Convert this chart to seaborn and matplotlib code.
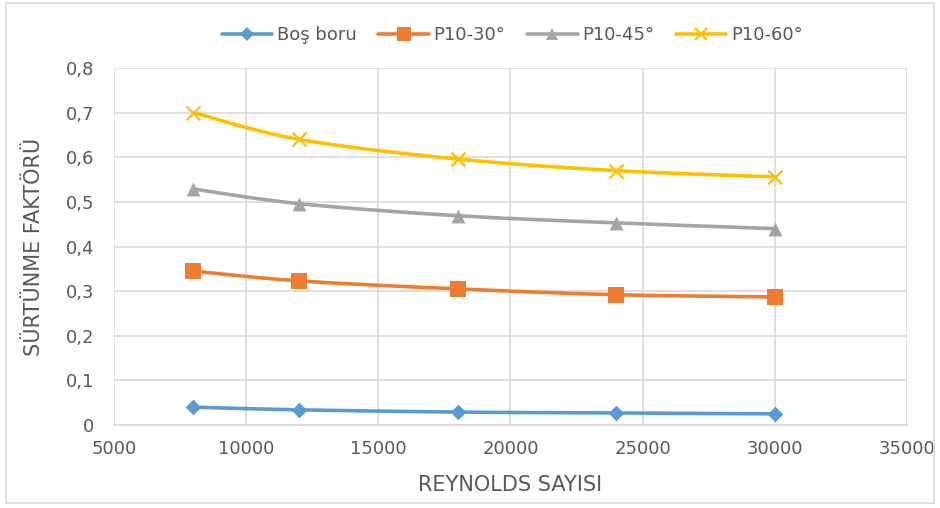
import numpy as np
import pandas as pd
import matplotlib
matplotlib.use("Agg")
import matplotlib.pyplot as plt
import seaborn as sns
from matplotlib.patches import Rectangle

reynolds = [8000, 12000, 18000, 24000, 30000]
series_names = ["Boş boru", "P10-30°", "P10-45°", "P10-60°"]
bos_boru = [0.040, 0.034, 0.029, 0.027, 0.025]
p10_30 = [0.345, 0.323, 0.305, 0.292, 0.287]
p10_45 = [0.529, 0.496, 0.469, 0.453, 0.440]
p10_60 = [0.700, 0.640, 0.596, 0.570, 0.556]
x_ticks = [5000, 10000, 15000, 20000, 25000, 30000, 35000]
y_ticks = [0, 0.1, 0.2, 0.3, 0.4, 0.5, 0.6, 0.7, 0.8]

colors = ["#5B9BD5", "#ED7D31", "#A5A5A5", "#FFC000"]
markers = ["D", "s", "^", "x"]
msizes = [8, 11, 10, 10]

sns.set_theme(style="white")
plt.rcParams['font.family'] = ['DejaVu Sans']

df = pd.DataFrame({
    "Re": reynolds * 4,
    "f": bos_boru + p10_30 + p10_45 + p10_60,
    "seri": sum([[n] * len(reynolds) for n in series_names], []),
})

fig = plt.figure(figsize=(9.4, 5.08), dpi=100)
ax = fig.add_axes([114 / 940, 1 - 425 / 508, (907 - 114) / 940, (425 - 68) / 508])
fig.patches.append(Rectangle((0.006, 0.01), 0.988, 0.985, transform=fig.transFigure,
                             fill=False, edgecolor="#D9D9D9", linewidth=1.2))


def catmull(xs, ys, n=30):
    xs = np.asarray(xs, float); ys = np.asarray(ys, float)
    px = np.concatenate([[xs[0]], xs, [xs[-1]]])
    py = np.concatenate([[ys[0]], ys, [ys[-1]]])
    ox, oy = [], []
    t = np.linspace(0, 1, n)
    for i in range(1, len(px) - 2):
        p0, p1, p2, p3 = [np.array([px[j], py[j]]) for j in (i - 1, i, i + 1, i + 2)]
        m1 = (p2 - p0) / 2
        m2 = (p3 - p1) / 2
        h00 = 2 * t**3 - 3 * t**2 + 1
        h10 = t**3 - 2 * t**2 + t
        h01 = -2 * t**3 + 3 * t**2
        h11 = t**3 - t**2
        ox.extend(h00 * p1[0] + h10 * m1[0] + h01 * p2[0] + h11 * m2[0])
        oy.extend(h00 * p1[1] + h10 * m1[1] + h01 * p2[1] + h11 * m2[1])
    return ox, oy


for name, c, m, ms in zip(series_names, colors, markers, msizes):
    sub = df[df.seri == name]
    sx, sy = catmull(sub.Re.values, sub.f.values)
    ax.plot(sx, sy, color=c, linewidth=2.6, zorder=3, solid_capstyle="round")
    sns.scatterplot(data=sub, x="Re", y="f", ax=ax, color=c, marker=m,
                    s=ms**2, linewidth=(1.6 if m == "x" else 0), edgecolor=c, zorder=4, legend=False)
    ax.plot([], [], color=c, linewidth=2.6, marker=m, markersize=ms * 0.9,
            markeredgewidth=(1.6 if m == "x" else 0), label=name)

ax.set_xlim(5000, 35000)
ax.set_ylim(0, 0.8)
ax.set_xticks(x_ticks)
ax.set_yticks(y_ticks)
ax.set_xticklabels([str(v) for v in x_ticks])
ax.set_yticklabels(["0" if v == 0 else f"{v:.1f}".replace(".", ",") for v in y_ticks])
ax.grid(True, color="#D9D9D9", linewidth=1.2)
ax.set_axisbelow(True)
for s in ["top", "right", "left"]:
    ax.spines[s].set_visible(False)
ax.spines["bottom"].set_color("#D9D9D9")
ax.spines["bottom"].set_linewidth(1.2)
ax.tick_params(axis="both", colors="#595959", labelsize=13, length=0)
ax.tick_params(axis="y", pad=14)
ax.tick_params(axis="x", pad=11)
ax.set_xlabel("REYNOLDS SAYISI", fontsize=15, color="#595959", labelpad=12)
ax.set_ylabel("SÜRTÜNME FAKTÖRÜ", fontsize=15, color="#595959", labelpad=16)

fig.legend(loc="upper center", bbox_to_anchor=(0.545, 0.98), ncol=4, frameon=False,
           fontsize=13, handlelength=2.8, columnspacing=1.2, handletextpad=0.25,
           labelcolor="#595959")

fig.savefig("out.png", dpi=100)
